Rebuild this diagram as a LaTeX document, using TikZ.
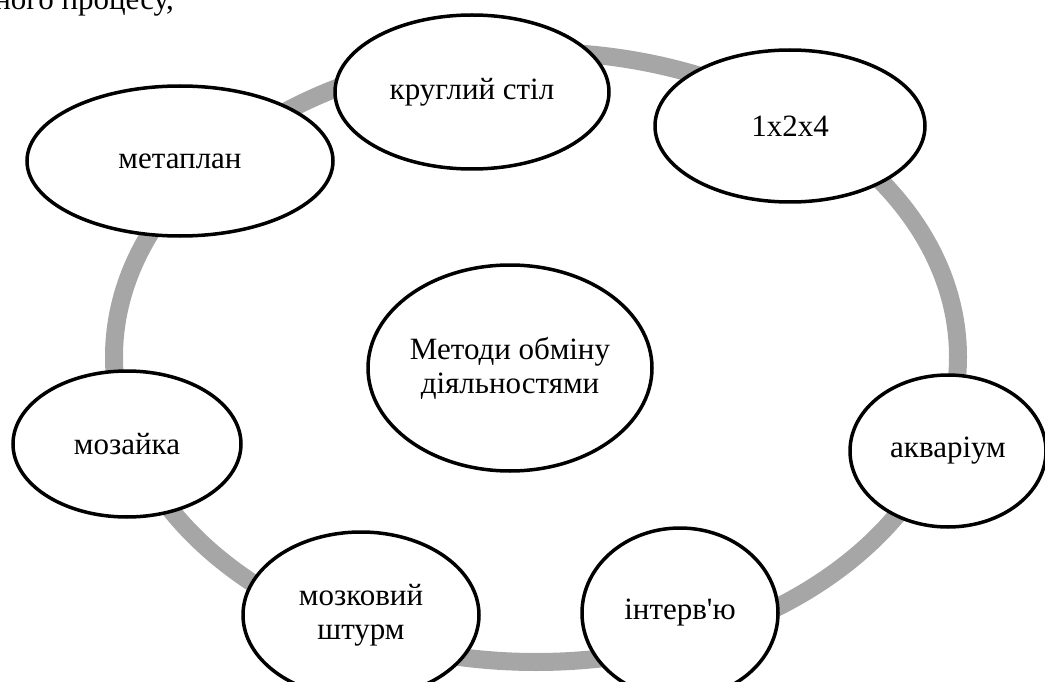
\documentclass[tikz,border=0pt]{standalone}
\usepackage{fontspec}
\setmainfont{Liberation Serif}[Ligatures=TeXOff]
\usetikzlibrary{shapes.geometric}
\definecolor{ringgray}{HTML}{A6A6A6}
\begin{document}
\begin{tikzpicture}[x=1pt,y=-1pt,
  bub/.style={ellipse, draw=black, line width=3.5pt, fill=white, inner sep=0pt,
    align=center, font=\fontsize{31}{34}\selectfont},
  ringline/.style={draw=ringgray, line width=18pt}]
\useasboundingbox (0,0) rectangle (1045,682);
\node[anchor=base east, inner sep=0pt, font=\fontsize{31}{34}\selectfont] (head) at (174,10) {ного процесу,};
\draw[ringline] (536,357) ellipse [x radius=422pt, y radius=305pt];
\node[bub, minimum width=274pt, minimum height=154pt] (kruh) at (472,92) {круглий стіл};
\node[bub, minimum width=270pt, minimum height=152pt] (x124) at (790,126) {1x2x4};
\node[bub, minimum width=306pt, minimum height=150pt] (meta) at (180,161) {метаплан};
\node[bub, minimum width=284pt, minimum height=206pt] (center) at (510,368) {Методи обміну\\діяльностями};
\node[bub, minimum width=228pt, minimum height=146pt] (moz) at (127,444) {мозайка};
\node[bub, minimum width=196pt, minimum height=152pt] (akv) at (948,451) {акваріум};
\node[bub, minimum width=236pt, minimum height=166pt] (brain) at (361,615) {мозковий\\штурм};
\node[bub, minimum width=196pt, minimum height=170pt] (int) at (680,613) {інтерв'ю};
\end{tikzpicture}
\end{document}
